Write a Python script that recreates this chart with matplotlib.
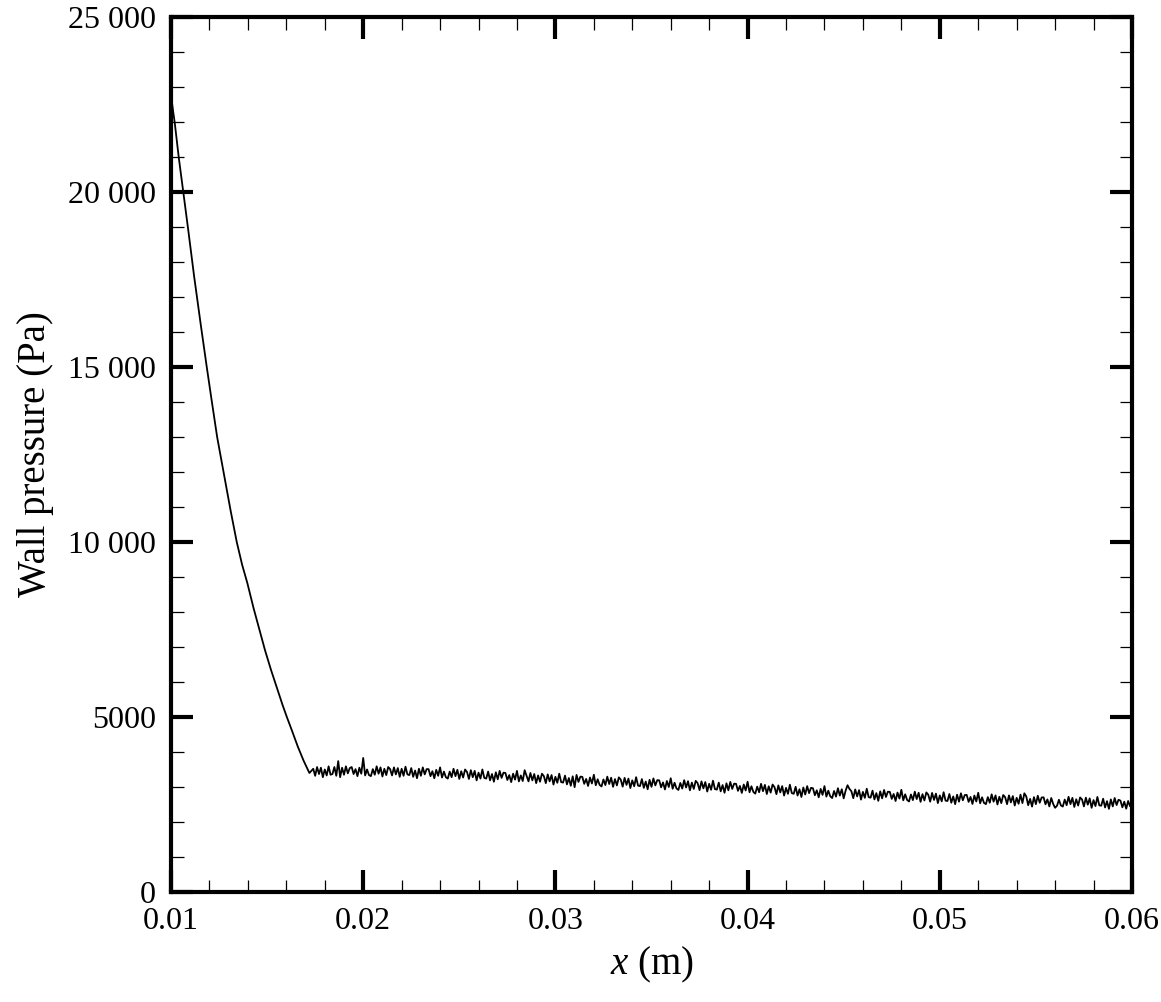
import numpy as np
import matplotlib
matplotlib.use("Agg")
import matplotlib.pyplot as plt
from matplotlib.ticker import MultipleLocator, FuncFormatter

plt.rcParams.update({
    "font.family": "Liberation Serif",
    "mathtext.fontset": "custom",
    "mathtext.rm": "Liberation Serif",
    "mathtext.it": "Liberation Serif:italic",
})

# ---- data ----
# steep drop near the leading edge
drop_x = [0.0100, 0.0102, 0.0104, 0.01064, 0.0109, 0.0112, 0.01155, 0.01186,
          0.0121, 0.0124, 0.01281, 0.0131, 0.01342, 0.0137, 0.01397, 0.0143,
          0.0146, 0.01489, 0.0152, 0.0155, 0.0158, 0.01602, 0.0163, 0.0166,
          0.0169, 0.0172]
drop_p = [22750, 21950, 21000, 20000, 18900, 17600, 16200, 15000,
          14100, 13000, 11770, 10900, 10000, 9350, 8830, 8100,
          7500, 6910, 6350, 5850, 5350, 5010, 4600, 4150,
          3750, 3400]

# noisy plateau, sampled every 0.0001 m from 0.0174 to 0.0600
plateau_x0, plateau_x1 = 0.0174, 0.0600
plateau_p = [
    3520, 3320, 3570, 3370, 3550, 3280, 3500, 3330, 3590, 3350,
    3370, 3570, 3320, 3740, 3280, 3550, 3350, 3590, 3390, 3540,
    3570, 3370, 3510, 3310, 3550, 3380, 3830, 3330, 3500, 3340,
    3310, 3510, 3350, 3590, 3380, 3560, 3300, 3520, 3340, 3570,
    3510, 3330, 3560, 3360, 3540, 3290, 3520, 3320, 3580, 3360,
    3340, 3540, 3290, 3470, 3250, 3520, 3320, 3560, 3360, 3510,
    3510, 3310, 3450, 3250, 3490, 3320, 3560, 3270, 3440, 3280,
    3240, 3440, 3280, 3520, 3310, 3490, 3230, 3450, 3270, 3500,
    3430, 3230, 3480, 3280, 3460, 3190, 3410, 3240, 3500, 3260,
    3240, 3440, 3190, 3370, 3150, 3420, 3220, 3460, 3260, 3410,
    3400, 3200, 3340, 3140, 3380, 3210, 3460, 3160, 3330, 3170,
    3480, 3320, 3160, 3400, 3190, 3370, 3110, 3330, 3150, 3380,
    3310, 3110, 3360, 3160, 3340, 3070, 3290, 3120, 3380, 3140,
    3125, 3325, 3075, 3255, 3035, 3305, 2995, 3345, 3145, 3295,
    3290, 3090, 3230, 3030, 3270, 3100, 3350, 3050, 3220, 3060,
    3015, 3215, 3055, 3295, 3085, 3265, 3005, 3225, 3045, 3275,
    3210, 3010, 3260, 3060, 3240, 2970, 3190, 3020, 3280, 3040,
    3025, 3225, 2975, 3155, 2935, 3205, 3005, 3245, 3045, 3195,
    3190, 2990, 3130, 2930, 3170, 3000, 3250, 2950, 3120, 2960,
    2915, 3115, 2955, 3195, 2985, 3165, 2905, 3125, 2945, 3175,
    3110, 2910, 3160, 2960, 3140, 2870, 3090, 2920, 3180, 2940,
    2925, 3125, 2875, 3055, 2835, 3105, 2905, 3145, 2945, 3095,
    3090, 2890, 3030, 2830, 3070, 2900, 3150, 2850, 3020, 2860,
    2810, 3010, 2850, 3090, 2880, 3060, 2800, 3020, 2840, 3070,
    2995, 2795, 3045, 2845, 3025, 2755, 2975, 2805, 3065, 2825,
    2805, 3005, 2755, 2935, 2715, 2985, 2785, 3025, 2825, 2975,
    2965, 2765, 2905, 2705, 2945, 2775, 3025, 2725, 2895, 2735,
    2685, 2885, 2725, 2965, 2755, 2935, 2675, 2895, 3050, 2945,
    2880, 2680, 2930, 2730, 2910, 2640, 2860, 2690, 2950, 2710,
    2695, 2895, 2645, 2825, 2605, 2875, 2675, 2915, 2715, 2865,
    2860, 2660, 2800, 2600, 2840, 2670, 2920, 2620, 2790, 2630,
    2585, 2785, 2625, 2865, 2655, 2835, 2575, 2795, 2615, 2845,
    2780, 2580, 2830, 2630, 2810, 2540, 2760, 2590, 2850, 2610,
    2600, 2800, 2550, 2730, 2510, 2780, 2580, 2820, 2620, 2770,
    2775, 2575, 2715, 2515, 2755, 2585, 2835, 2535, 2705, 2545,
    2510, 2710, 2550, 2790, 2580, 2760, 2500, 2720, 2540, 2770,
    2710, 2510, 2760, 2560, 2740, 2470, 2690, 2520, 2780, 2540,
    2820, 2730, 2480, 2660, 2440, 2710, 2510, 2750, 2550, 2700,
    2705, 2505, 2645, 2445, 2685, 2515, 2405, 2465, 2635, 2475,
    2440, 2640, 2480, 2720, 2510, 2690, 2430, 2650, 2470, 2700,
    2645, 2445, 2695, 2495, 2675, 2405, 2625, 2455, 2715, 2475,
    2465, 2665, 2415, 2595, 2375, 2645, 2445, 2685, 2485, 2635,
    2610, 2420, 2580, 2380, 2600, 2450, 2540,
]

x_ticks = [0.01, 0.02, 0.03, 0.04, 0.05, 0.06]
y_ticks = [0, 5000, 10000, 15000, 20000, 25000]

plateau_x = np.linspace(plateau_x0, plateau_x1, len(plateau_p))
x = np.concatenate([drop_x, plateau_x])
p = np.concatenate([drop_p, plateau_p])

# ---- figure ----
fig = plt.figure(figsize=(11.61, 10.02), dpi=100)
ax = fig.add_axes([0.1473, 0.1098, 0.8277, 0.8732])

ax.plot(x, p, color="black", lw=1.3)

ax.set_xlim(0.01, 0.06)
ax.set_ylim(0, 25000)
ax.set_xticks(x_ticks)
ax.set_yticks(y_ticks)
ax.xaxis.set_minor_locator(MultipleLocator(0.002))
ax.yaxis.set_minor_locator(MultipleLocator(1000))
ax.xaxis.set_major_formatter(FuncFormatter(lambda v, _: f"{v:g}"))


def pa_fmt(v, _):
    v = int(round(v))
    if v >= 10000:
        return f"{v:,}".replace(",", " ")
    return str(v)


ax.yaxis.set_major_formatter(FuncFormatter(pa_fmt))

for s in ax.spines.values():
    s.set_linewidth(3)
ax.tick_params(which="both", direction="in", top=True, right=True,
               labelsize=23, pad=11)
ax.tick_params(which="major", length=15.5, width=3)
ax.tick_params(which="minor", length=9, width=0.9)

ax.set_xlabel("$x$ (m)", fontsize=28, labelpad=6)
ax.set_ylabel("Wall pressure (Pa)", fontsize=28, labelpad=10)

fig.savefig("out.png", dpi=100, facecolor="white")
